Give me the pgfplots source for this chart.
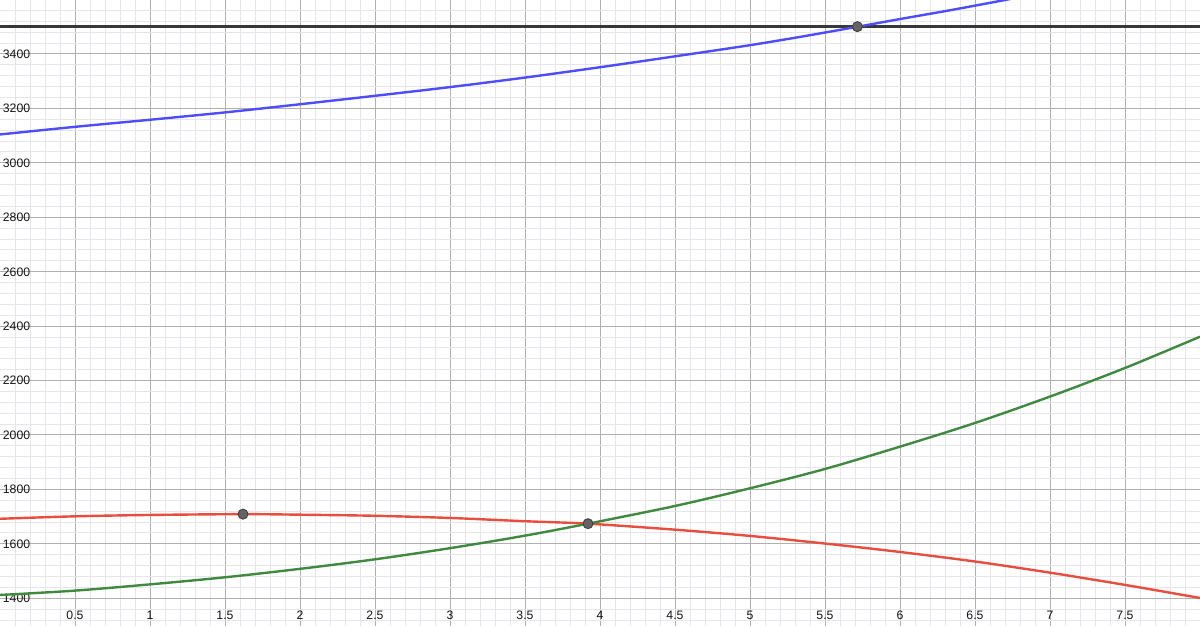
\documentclass[border=0pt]{standalone}
\usepackage{fontspec}
\setmainfont{Liberation Sans}
\usepackage{pgfplots}
\pgfplotsset{compat=1.18}

\definecolor{ggblue}{RGB}{77,77,255}
\definecolor{ggred}{RGB}{232,78,62}
\definecolor{gggreen}{RGB}{64,138,64}
\definecolor{majgrid}{RGB}{176,176,176}
\definecolor{mingrid}{RGB}{229,229,235}
\definecolor{ptfill}{RGB}{100,100,100}

\begin{document}
\begin{tikzpicture}
\begin{axis}[
    width=1200bp,
    height=626bp,
    scale only axis,
    xmin=0, xmax=8,
    ymin=1298, ymax=3598,
    axis line style={draw=none},
    major tick length=0pt,
    minor tick length=0pt,
    xtick={0.5,1,1.5,2,2.5,3,3.5,4,4.5,5,5.5,6,6.5,7,7.5},
    ytick={1400,1600,...,3400},
    minor xtick={0.1,0.2,...,7.9},
    minor ytick={1320,1360,...,3560},
    grid=both,
    major grid style={majgrid, line width=0.9bp},
    minor grid style={mingrid, line width=0.9bp},
    scaled ticks=false,
    /pgf/number format/1000 sep={},
    /pgf/number format/assume math mode=true,
    tick label style={font=\fontsize{12.3}{13}\selectfont, text=black!92},
    yticklabel style={anchor=base west, yshift=-4.4bp, xshift=-0.6bp},
    xticklabel style={anchor=base, yshift=6.8bp},
]
% horizontal line y = 3500
\addplot[draw=black!78, line width=2.6bp] coordinates {(0,3500) (8,3500)};

% blue curve
\addplot[ggblue, line width=2.4bp, smooth] coordinates {
    (0,3104) (0.5,3132) (1,3158) (1.5,3185) (2,3215) (2.5,3246)
    (3,3278) (3.5,3313) (4,3351) (4.5,3391) (5,3432) (5.35,3464)
    (5.72,3500) (6,3528) (6.33,3560) (6.7,3598) (6.9,3620)
};

% red curve
\addplot[ggred, line width=2.4bp, smooth] coordinates {
    (0,1692) (0.5,1701) (1,1706) (1.62,1709) (2,1707) (2.5,1703)
    (3,1695) (3.5,1683) (3.92,1674) (4.5,1652) (5,1629) (5.5,1601)
    (6,1570) (6.5,1535) (7,1494) (7.5,1449) (8,1401)
};

% green curve
\addplot[gggreen, line width=2.4bp, smooth] coordinates {
    (0,1412) (0.5,1428) (1,1451) (1.5,1477) (2,1508) (2.5,1543)
    (3,1584) (3.5,1630) (3.92,1674) (4.5,1739) (5,1804) (5.5,1875)
    (6,1957) (6.5,2044) (7,2141) (7.5,2246) (8,2361)
};

% marked points
\addplot[only marks, mark=*, mark size=5bp,
    mark options={draw=black!75, fill=ptfill, line width=0.9bp}]
    coordinates {(1.62,1709) (3.92,1674) (5.716,3500)};
\end{axis}
\pgfresetboundingbox
\useasboundingbox (current axis.south west) rectangle (current axis.north east);
\end{tikzpicture}
\end{document}
